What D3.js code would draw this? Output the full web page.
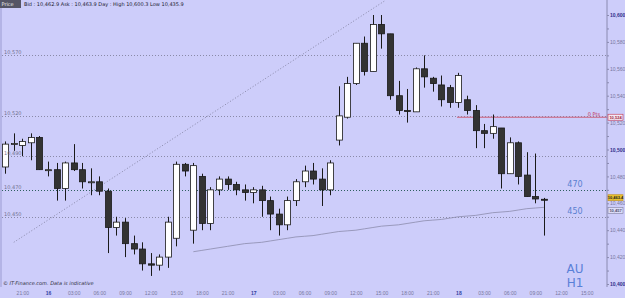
<!DOCTYPE html>
<html>
<head>
<meta charset="utf-8">
<title>AU H1</title>
<style>
  body { margin: 0; background: #cdcdfa; }
  svg { display: block; font-family: "DejaVu Sans", sans-serif; }
</style>
</head>
<body>
<div id="chart"></div>
<script src="https://d3js.org/d3.v7.min.js"></script>
<script>
const width = 625, height = 298;

// hourly candles, hour 0 = day 16 00:00, first candle at 15th 19:00
const firstHour = -5;
const opens  = [10487,10504,10503,10505,10509,10485,10485,10471,10490,10485,10476,10476,10469,10442,10446,10430,10426,10415,10414,10420,10434,10489,10440,10480,10445,10470,10478,10474,10470,10468,10470,10462,10452,10444,10462,10476,10484,10478,10470,10507,10524,10549,10579,10558,10593,10586,10540,10529,10528,10560,10553,10548,10546,10535,10537,10529,10514,10512,10516,10482,10505,10481,10465,10463];
const highs  = [10506,10512,10508,10512,10510,10491,10490,10491,10504,10490,10486,10480,10471,10450,10449,10436,10431,10423,10422,10450,10491,10490,10490,10482,10472,10480,10480,10476,10474,10472,10473,10465,10456,10465,10478,10488,10490,10486,10492,10547,10554,10579,10584,10600,10600,10586,10551,10545,10561,10570,10554,10555,10548,10557,10540,10533,10519,10526,10516,10509,10506,10498,10497,10464];
const lows   = [10482,10499,10495,10492,10485,10480,10462,10462,10484,10471,10466,10466,10423,10436,10420,10422,10410,10406,10410,10412,10428,10480,10430,10440,10440,10466,10470,10466,10462,10460,10450,10440,10436,10440,10458,10472,10474,10458,10466,10503,10523,10548,10555,10558,10575,10537,10526,10520,10528,10546,10543,10532,10531,10531,10526,10501,10501,10508,10471,10482,10474,10465,10460,10436];
const closes = [10504,10504.5,10506,10509,10485,10485,10471,10490,10485,10476,10476,10469,10442,10446,10430,10426,10415,10414,10420,10446,10489,10484,10488,10445,10470,10478,10474,10470,10468,10470,10462,10452,10444,10462,10476,10484,10478,10470,10490,10525,10549,10579,10558,10593,10586,10540,10529,10528.5,10560,10554,10549,10537,10535,10555,10529,10514,10512,10517,10482,10505,10480,10465,10463.2,10462.9];

// long moving average, starts at candle index maStart
const maStart = 22;
const maValues = [10424,10425,10426,10427,10428,10429,10430,10430.5,10431,10432,10433,10434,10435,10435.5,10436,10437,10438,10439,10439.5,10440,10441,10442,10443,10443.5,10444,10445,10446,10447,10447.5,10448,10449,10450,10450.5,10451,10452,10453,10453.5,10454,10455,10456,10456.5,10457];

// manual trend line [hour, price]
const trendPoints = [[-4, 10431], [39.5, 10611]];

// level lines
const levels = [10570, 10525, 10495, 10470, 10450];
const levelLabels = ["10,570", "10,520", "10,490", "10,470", "10,450"];
const sideLabels = [{ level: 10470, text: "470" }, { level: 10450, text: "450" }];

const priceTicks = [10600, 10580, 10560, 10540, 10520, 10500, 10480, 10460, 10440, 10420, 10400];
const boldTicks = [10600, 10500, 10400];
const timeTicks = [-3, 0, 3, 6, 9, 12, 15, 18, 21, 24, 27, 30, 33, 36, 39, 42, 45, 48, 51, 54, 57, 60, 63];

const candles = opens.map((o, i) => ({ h: firstHour + i, o: o, hi: highs[i], lo: lows[i], c: closes[i] }));

const x = d3.scaleLinear().domain([0, 24]).range([48, 48 + 8.55 * 24]);
const y = d3.scaleLinear().domain([10400, 10600]).range([284, 15]);

const plotRight = 607, plotBottom = 287;

const svg = d3.select('#chart').append('svg')
  .attr('width', width)
  .attr('height', height);

svg.append('rect').attr('width', width).attr('height', height).attr('fill', '#cdcdfa');

svg.append('clipPath').attr('id', 'plot')
  .append('rect').attr('x', 2).attr('y', 0).attr('width', plotRight - 2).attr('height', plotBottom);

const plot = svg.append('g').attr('clip-path', 'url(#plot)');

// left border strip
svg.append('line').attr('x1', 1).attr('x2', 1).attr('y1', 0).attr('y2', plotBottom)
  .attr('stroke', '#b4b4e6').attr('stroke-width', 2);

// level lines
plot.selectAll('.level').data(levels).enter().append('line')
  .attr('x1', 2).attr('x2', plotRight)
  .attr('y1', d => Math.round(y(d)) + 0.5).attr('y2', d => Math.round(y(d)) + 0.5)
  .attr('stroke', d => d === 10470 ? '#2f5f5f' : '#8a8aa8')
  .attr('stroke-dasharray', '1,2');

svg.selectAll('.levelLabel').data(levels).enter().append('text')
  .attr('x', 4).attr('y', d => Math.round(y(d)) - 1)
  .attr('font-size', 5).attr('fill', '#707090')
  .text((d, i) => levelLabels[i]);

svg.selectAll('.sideLabel').data(sideLabels).enter().append('text')
  .attr('x', 575).attr('y', d => y(d.level) - 3)
  .attr('text-anchor', 'middle')
  .attr('font-size', 8).attr('fill', '#5a80d0')
  .text(d => d.text);

// trend line
plot.append('line')
  .attr('x1', x(trendPoints[0][0])).attr('y1', y(trendPoints[0][1]))
  .attr('x2', x(trendPoints[1][0])).attr('y2', y(trendPoints[1][1]))
  .attr('stroke', '#8888a8').attr('stroke-dasharray', '1,2');

// moving average
const ma = maValues.map((v, i) => [firstHour + maStart + i, v]);
plot.append('path')
  .datum(ma)
  .attr('fill', 'none')
  .attr('stroke', '#8c8cac')
  .attr('stroke-width', 0.8)
  .attr('d', d3.line().x(d => x(d[0])).y(d => y(d[1])));

// red alert line
plot.append('line')
  .attr('x1', 457).attr('x2', plotRight)
  .attr('y1', y(10524)).attr('y2', y(10524))
  .attr('stroke', '#cc5f78').attr('stroke-width', 1);
svg.append('text').attr('x', 600).attr('y', y(10524) - 1.5)
  .attr('text-anchor', 'end').attr('font-size', 5).attr('fill', '#c03050').text('0 Pts');

// candles
const bodyW = 6;
const g = plot.selectAll('.candle').data(candles).enter().append('g');
g.append('line')
  .attr('x1', d => Math.round(x(d.h)) + 0.5).attr('x2', d => Math.round(x(d.h)) + 0.5)
  .attr('y1', d => y(d.hi)).attr('y2', d => y(d.lo))
  .attr('stroke', '#1a1a1a').attr('stroke-width', 1);
g.append('rect')
  .attr('x', d => Math.round(x(d.h)) - bodyW / 2 + 0.5)
  .attr('y', d => y(Math.max(d.o, d.c)))
  .attr('width', bodyW)
  .attr('height', d => Math.max(1, Math.abs(y(d.o) - y(d.c))))
  .attr('fill', d => d.c >= d.o ? '#ffffff' : '#333333')
  .attr('stroke', '#1a1a1a').attr('stroke-width', 0.8);

// right axis
const yAxis = svg.append('g').attr('transform', `translate(${plotRight},0)`)
  .call(d3.axisRight(y).tickValues(priceTicks).tickSize(2).tickPadding(1)
    .tickFormat(d => d3.format(',')(d)));
yAxis.select('.domain').attr('stroke', '#8a8ab0').attr('d', `M0,0V${plotBottom}`);
yAxis.selectAll('.tick line').attr('stroke', '#8a8ab0');
yAxis.selectAll('.tick text')
  .attr('font-size', 5)
  .attr('fill', d => boldTicks.includes(d) ? '#30308a' : '#7878a0')
  .attr('font-weight', d => boldTicks.includes(d) ? 'bold' : 'normal');

svg.append('g').attr('transform', `translate(${plotRight},0)`)
  .call(d3.axisRight(y).tickValues(priceTicks.map(v => v + 10).filter(v => v < 10600)).tickSize(2).tickFormat(''))
  .call(a => a.select('.domain').remove())
  .selectAll('line').attr('stroke', '#8a8ab0');

// axis markers
const markers = [
  { v: 10524, text: '10,524', fill: '#f4eaf4', stroke: '#c03050', color: '#a02040', dy: 0 },
  { v: 10463.4, text: '10,463.4', fill: '#e8c030', stroke: '#c09020', color: '#202020', dy: -1 },
  { v: 10457, text: '10,457', fill: '#dcdcf8', stroke: '#8080a0', color: '#505070', dy: 3 }
];
const mk = svg.selectAll('.marker').data(markers).enter().append('g')
  .attr('transform', d => `translate(${plotRight + 1},${y(d.v) + d.dy})`);
mk.append('rect').attr('x', 0).attr('y', -3).attr('width', 15).attr('height', 6)
  .attr('fill', d => d.fill).attr('stroke', d => d.stroke).attr('stroke-width', 0.6);
mk.append('text').attr('x', 7.5).attr('y', 1.6).attr('font-size', 4)
  .attr('text-anchor', 'middle')
  .attr('font-family', '"Liberation Sans Narrow", "Liberation Sans", sans-serif')
  .attr('font-weight', 'bold').attr('fill', d => d.color).text(d => d.text);

// bottom axis
const xAxis = svg.append('g').attr('transform', `translate(0,${plotBottom})`)
  .call(d3.axisBottom(x).tickValues(timeTicks).tickSize(0).tickPadding(4)
    .tickFormat(h => {
      const hh = ((h % 24) + 24) % 24;
      if (hh === 0) return String(16 + h / 24);
      return (hh < 10 ? '0' : '') + hh + ':00';
    }));
xAxis.select('.domain').remove();
xAxis.selectAll('.tick text')
  .attr('font-size', 5)
  .attr('fill', h => h % 24 === 0 ? '#3040a0' : '#7878a0')
  .attr('font-weight', h => h % 24 === 0 ? 'bold' : 'normal');

// header
svg.append('rect').attr('x', 0).attr('y', 0).attr('width', 21).attr('height', 8).attr('fill', '#555566');
svg.append('text').attr('x', 1.5).attr('y', 6).attr('font-size', 5).attr('fill', '#f0f0f0').text('Price');
svg.append('text').attr('x', 24).attr('y', 6).attr('font-size', 5).attr('fill', '#202030')
  .text('Bid : 10,462.9 Ask : 10,463.9 Day : High 10,600.3 Low 10,435.9');

// footer
svg.append('text').attr('x', 3).attr('y', 285).attr('font-size', 5).attr('font-style', 'italic')
  .attr('fill', '#303040').text('© IT-Finance.com. Data is indicative');

// instrument
svg.append('text').attr('x', 575).attr('y', 273).attr('text-anchor', 'middle')
  .attr('font-size', 12).attr('fill', '#5a80d8').text('AU');
svg.append('text').attr('x', 575).attr('y', 287).attr('text-anchor', 'middle')
  .attr('font-size', 12).attr('fill', '#5a80d8').text('H1');
</script>
</body>
</html>
